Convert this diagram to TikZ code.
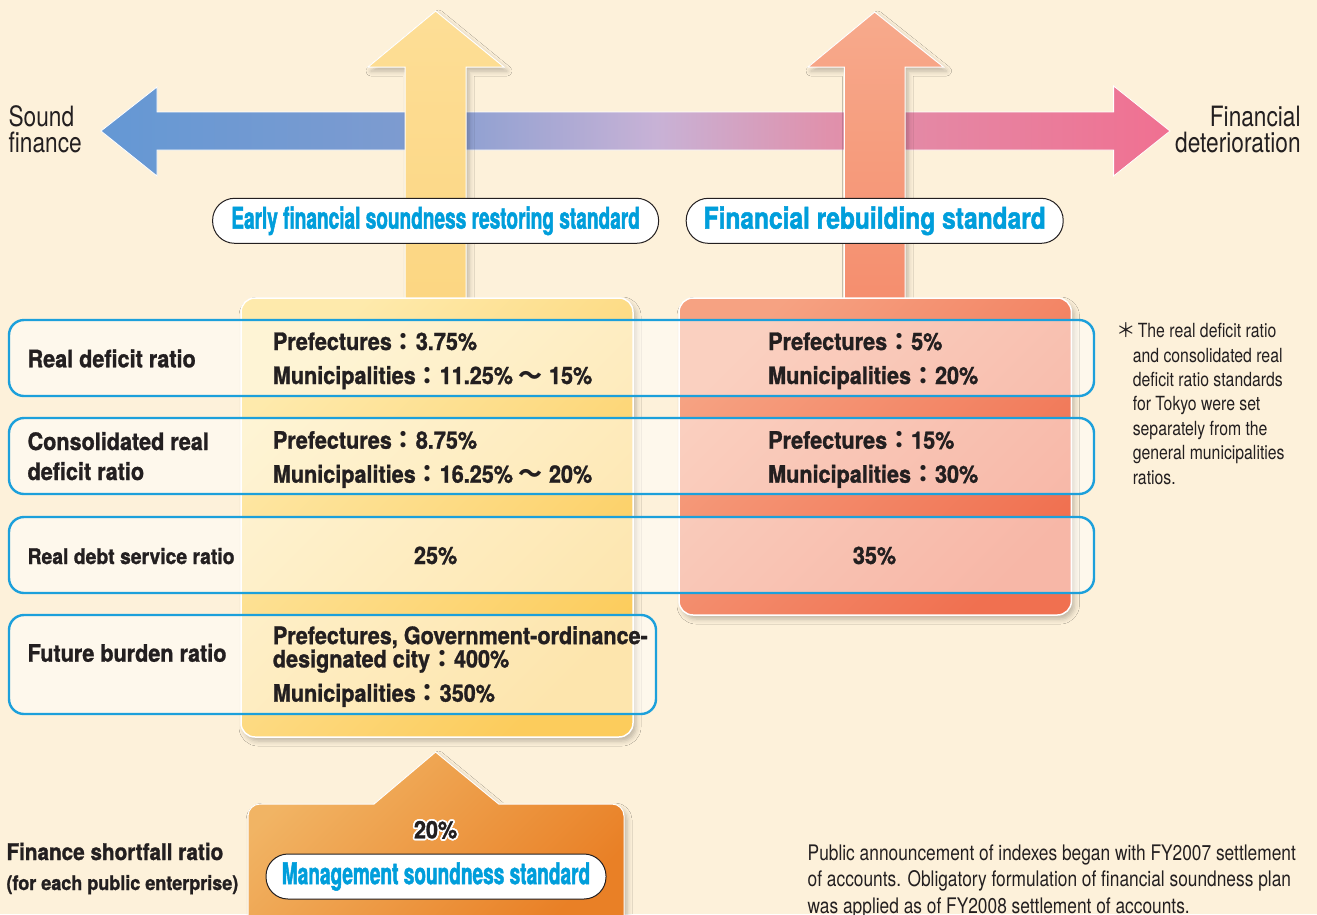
\documentclass[tikz,border=0pt]{standalone}
\usepackage{fontspec}
\setmainfont{TeX Gyre Heros}[FakeStretch=0.81]
\newfontfamily\heavyfont{TeX Gyre Heros}[FakeStretch=0.9,BoldFeatures={FakeBold=1.2}]
\newfontfamily\signfont{TeX Gyre Heros}[FakeStretch=0.635,BoldFeatures={FakeBold=1.5}]
\newfontfamily\signwidefont{TeX Gyre Heros}[FakeStretch=0.817,BoldFeatures={FakeBold=1.5}]
\newfontfamily\cjkfont{Noto Sans CJK JP}
\usetikzlibrary{shadows.blur,positioning}
\newcommand{\fwc}{{\cjkfont ：}}
\newcommand{\fwt}{{\cjkfont ～}}
\definecolor{cream}{RGB}{253,241,218}
\definecolor{ink}{RGB}{35,31,32}
\definecolor{bandblue}{RGB}{28,160,219}
\definecolor{signblue}{RGB}{0,158,219}
\definecolor{hsound}{RGB}{100,152,212}
\definecolor{hblue}{RGB}{125,155,208}
\definecolor{hlilac}{RGB}{200,178,214}
\definecolor{hrose}{RGB}{224,145,172}
\definecolor{hpink}{RGB}{240,112,145}
\definecolor{yelhead}{RGB}{253,222,150}
\definecolor{yelshaft}{RGB}{252,214,130}
\definecolor{yellight}{RGB}{254,234,172}
\definecolor{yeldeep}{RGB}{252,204,92}
\definecolor{salhead}{RGB}{247,170,140}
\definecolor{salshaft}{RGB}{245,142,110}
\definecolor{sallight}{RGB}{246,162,130}
\definecolor{saldeep}{RGB}{240,112,80}
\definecolor{orlight}{RGB}{241,180,100}
\definecolor{ordeep}{RGB}{233,128,38}
\pgfdeclarehorizontalshading{soundworse}{100bp}{color(0bp)=(hsound); color(25bp)=(hsound); color(39bp)=(hblue); color(51bp)=(hlilac); color(59bp)=(hrose); color(75bp)=(hpink); color(100bp)=(hpink)}

\begin{document}
\begin{tikzpicture}[x=1pt,y=1pt,
  softshadow/.style={blur shadow={shadow xshift=3pt,shadow yshift=-4pt,shadow blur radius=5pt,shadow opacity=25}},
  vbar/.style={draw=white,line width=1pt,softshadow},
  plate/.style={draw=white,line width=1.5pt,rounded corners=14pt,softshadow},
  band/.style={draw=bandblue,line width=2.4pt,fill=white,fill opacity=0.5,rounded corners=15pt},
  pill/.style={draw=ink,line width=1pt,fill=white,rounded corners=22pt,minimum height=45pt,inner sep=0pt,text=signblue},
  sidetext/.style={inner sep=0pt,text=ink,font=\fontsize{28}{26.3}\selectfont},
  rowlabel/.style={anchor=base west,inner sep=0pt,align=left,text=ink,font=\heavyfont\bfseries\fontsize{24}{30}\selectfont},
  rowdata/.style={anchor=base west,inner sep=0pt,align=left,text=ink,font=\heavyfont\bfseries\fontsize{24}{34}\selectfont},
  pct/.style={anchor=base,inner sep=0pt,text=ink,font=\heavyfont\bfseries\fontsize{24}{24}\selectfont},
  note/.style={anchor=base west,inner sep=0pt,align=left,text=ink}]
\useasboundingbox (0,0) rectangle (1317,-914);
\fill[cream] (0,0) rectangle (1317,-914);

% direction arrow
\path[shade,shading=soundworse,draw=white,line width=0.8pt] (101,-131) -- (157,-87) -- (157,-112) -- (1113.6,-112) -- (1113.6,-86) -- (1170,-131) -- (1113.6,-176) -- (1113.6,-150) -- (157,-150) -- (157,-176) -- cycle;
\node[sidetext,anchor=base west,align=left] (sound) at (8.4,-152.3) {Sound\\finance};
\node[sidetext,anchor=base east,align=right] (worse) at (1300.8,-152.3) {Financial\\deterioration};

% standards
\path[vbar,top color=yelhead,bottom color=yelshaft] (435.6,-11) -- (504,-67) -- (466,-67) -- (466,-300) -- (405,-300) -- (405,-67) -- (368,-67) -- cycle;
\path[vbar,top color=salhead,bottom color=salshaft] (874.6,-12) -- (943.5,-67) -- (905,-67) -- (905,-300) -- (844.4,-300) -- (844.4,-67) -- (808,-67) -- cycle;
\path[plate,top color=yellight,bottom color=yeldeep,shading angle=45] (241,-298) rectangle (633,-737);
\path[plate,top color=sallight,bottom color=saldeep,shading angle=45] (679,-298) rectangle (1071.4,-615);
\node[pill,minimum width=446pt,font=\signfont\bfseries\fontsize{30}{30}\selectfont] (earlysign) at (435.6,-220.8) {\raisebox{-2pt}{Early financial soundness restoring standard}};
\node[pill,minimum width=377pt,font=\signwidefont\bfseries\fontsize{30}{30}\selectfont] (rebuildsign) at (874.7,-220.8) {\raisebox{-2pt}{Financial rebuilding standard}};

% ratios
\foreach \ya/\yb/\xr in {320/396/1094,418/494/1094,517/593/1094,615/714/656}
  \path[band] (9,-\ya) rectangle (\xr,-\yb);
\node[rowlabel] (rdlabel) at (27.4,-367.3) {Real deficit ratio};
\node[rowdata] (rdearly) at (272.7,-384) {Prefectures\fwc 3.75\%\\Municipalities\fwc 11.25\% \fwt{} 15\%};
\node[rowdata] (rdrebuild) at (768,-384) {Prefectures\fwc 5\%\\Municipalities\fwc 20\%};
\node[rowlabel] (cdlabel) at (27.4,-480) {Consolidated real\\deficit ratio};
\node[rowdata] (cdearly) at (272.7,-482.7) {Prefectures\fwc 8.75\%\\Municipalities\fwc 16.25\% \fwt{} 20\%};
\node[rowdata] (cdrebuild) at (768,-482.7) {Prefectures\fwc 15\%\\Municipalities\fwc 30\%};
\node[rowlabel,font=\heavyfont\bfseries\fontsize{21.5}{24}\selectfont] (dslabel) at (27.4,-564) {Real debt service ratio};
\node[pct] (dsearly) at (435.6,-564) {25\%};
\node[pct] (dsrebuild) at (874.5,-564) {35\%};
\node[rowlabel] (fblabel) at (27.4,-661.7) {Future burden ratio};
\node[rowdata,font=\heavyfont\bfseries\fontsize{24}{23.3}\selectfont] (fbearly) at (272.7,-701.7) {Prefectures, Government-ordinance-\\designated city\fwc 400\%\\[11pt]Municipalities\fwc 350\%};

\node[note,font=\fontsize{19.5}{24.4}\selectfont] (tokyo) at (1116.6,-484) {\makebox[21pt][l]{\cjkfont ＊}The real deficit ratio\\\hspace*{16pt}and consolidated real\\\hspace*{16pt}deficit ratio standards\\\hspace*{16pt}for Tokyo were set\\\hspace*{16pt}separately from the\\\hspace*{16pt}general municipalities\\\hspace*{16pt}ratios.};

% public enterprise
\path[softshadow,draw=white,line width=1pt,top color=orlight,bottom color=ordeep,shading angle=45] (248,-930) -- (248,-816) arc[start angle=180,end angle=90,radius=12] -- (374,-804) -- (435.6,-752) -- (498.7,-804) -- (612,-804) arc[start angle=90,end angle=0,radius=12] -- (624,-930) -- cycle;
\foreach \a in {0,30,...,330}
  \node[pct,text=white] at ([shift={(\a:1.8)}]435.6,-838.3) {20\%};
\node[pct] (fspct) at (435.6,-838.3) {20\%};
\node[pill,minimum width=340pt,font=\signfont\bfseries\fontsize{30}{30}\selectfont] (mgmtsign) at (436,-876.5) {\raisebox{-2pt}{Management soundness standard}};
\node[rowlabel,font=\heavyfont\bfseries\fontsize{23}{30}\selectfont] (fslabel) at (6.3,-860) {Finance shortfall ratio};
\node[rowlabel,font=\heavyfont\bfseries\fontsize{20}{24}\selectfont] (fsnote) at (6.3,-890) {(for each public enterprise)};

\node[note,font=\fontsize{21.4}{26.5}\selectfont] (announce) at (807.5,-913.3) {Public announcement of indexes began with FY2007 settlement\\of accounts. Obligatory formulation of financial soundness plan\\was applied as of FY2008 settlement of accounts.};
\end{tikzpicture}
\end{document}
